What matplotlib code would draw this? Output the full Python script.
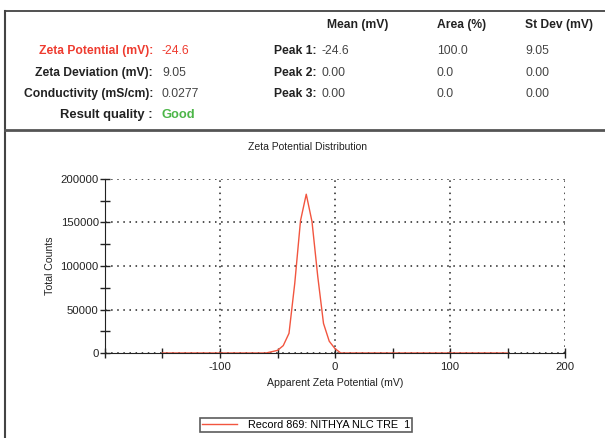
import numpy as np
import matplotlib.pyplot as plt
from matplotlib.lines import Line2D
from matplotlib.ticker import MultipleLocator

plt.rcParams['font.family'] = ['Liberation Sans', 'DejaVu Sans']

# zeta potential distribution
zeta_mv = [-150, -60, -50, -45, -40, -35, -30, -25, -20, -15, -10, -5, 0, 5, 150]
counts = [0, 0, 3000, 8500, 22600, 80000, 152000, 182500, 151000, 88000, 34000, 13500, 5000, 0, 0]

# summary table
left_labels = ["Zeta Potential (mV):", "Zeta Deviation (mV):", "Conductivity (mS/cm):", "Result quality :"]
left_values = ["-24.6", "9.05", "0.0277", "Good"]
peak_labels = ["Peak 1:", "Peak 2:", "Peak 3:"]
col_heads = ["Mean (mV)", "Area (%)", "St Dev (mV)"]
peak_mean = ["-24.6", "0.00", "0.00"]
peak_area = ["100.0", "0.0", "0.0"]
peak_sd = ["9.05", "0.00", "0.00"]

W, H = 605, 438
fig = plt.figure(figsize=(W / 100, H / 100), dpi=100)

def fx(x):
    return x / W

def fy(y):
    return 1 - y / H

# frame around the report
fig.add_artist(Line2D([fx(5), 1], [fy(10.5), fy(10.5)], color='#333333', lw=1.2))
fig.add_artist(Line2D([fx(5), fx(5)], [fy(10.5), 0], color='#444444', lw=1.5))
fig.add_artist(Line2D([fx(5), 1], [fy(130), fy(130)], color='#555555', lw=2))

fs = 8.7
red = '#ee3b2f'
green = '#4cb648'
txt = '#222222'
row_y = [51, 73, 94, 115]

for i, (lab, val) in enumerate(zip(left_labels, left_values)):
    col = txt
    vcol = '#444444'
    size = fs
    if i == 0:
        col = red
        vcol = red
    if i == 3:
        vcol = green
        size = 9.4
    fig.text(fx(153), fy(row_y[i]), lab, ha='right', va='center', fontsize=size,
             fontweight='bold', color=col)
    fig.text(fx(162), fy(row_y[i]), val, ha='left', va='center', fontsize=size,
             color=vcol, fontweight='bold' if i == 3 else 'normal')

for x, head in zip([327, 437, 525], col_heads):
    fig.text(fx(x), fy(25), head, ha='left', va='center', fontsize=fs, fontweight='bold', color=txt)

for i, lab in enumerate(peak_labels):
    fig.text(fx(316), fy(row_y[i]), lab, ha='right', va='center', fontsize=fs, fontweight='bold', color=txt)
    fig.text(fx(322), fy(row_y[i]), peak_mean[i], ha='left', va='center', fontsize=fs, color='#444444')
    fig.text(fx(437), fy(row_y[i]), peak_area[i], ha='left', va='center', fontsize=fs, color='#444444')
    fig.text(fx(525), fy(row_y[i]), peak_sd[i], ha='left', va='center', fontsize=fs, color='#444444')

# the distribution plot
ax = fig.add_axes([fx(105), fy(353), fx(565) - fx(105), fy(179) - fy(353)])
line, = ax.plot(zeta_mv, counts, color='#f2553f', lw=1.0, label="Record 869: NITHYA NLC TRE  1")
ax.set_xlim(-200, 200)
ax.set_ylim(0, 200000)
ax.xaxis.set_major_locator(MultipleLocator(100))
ax.xaxis.set_minor_locator(MultipleLocator(50))
ax.yaxis.set_major_locator(MultipleLocator(50000))
ax.yaxis.set_minor_locator(MultipleLocator(25000))
ax.set_xticks([-100, 0, 100, 200])
ax.set_xticklabels(["-100", "0", "100", "200"])
ax.tick_params(which='both', direction='inout', length=7, width=1, colors='#222222',
               labelsize=8.2, labelcolor='#222222')
ax.tick_params(axis='x', pad=3)
ax.tick_params(axis='y', pad=1)
ax.grid(True, which='major', color='#222222', linestyle=(0, (1, 3)), lw=1.1)
ax.spines['top'].set_visible(False)
ax.spines['right'].set_visible(False)
ax.spines['left'].set_color('#222222')
ax.spines['bottom'].set_color('#222222')
ax.set_xlabel("Apparent Zeta Potential (mV)", fontsize=7.6, color='#222222', labelpad=4)
ax.set_ylabel("Total Counts", fontsize=7.6, color='#222222', labelpad=4)
fig.text(fx(307), fy(147), "Zeta Potential Distribution", ha='center', va='center',
         fontsize=7.5, color='#222222')

leg = fig.legend(handles=[line], loc='center', bbox_to_anchor=(fx(306), fy(425)),
                 fontsize=7.8, frameon=True, fancybox=False, edgecolor='#333333',
                 handlelength=3.2, borderpad=0.2, handletextpad=1.0)
leg.get_frame().set_linewidth(1.2)

fig.savefig("out.png", dpi=100)
